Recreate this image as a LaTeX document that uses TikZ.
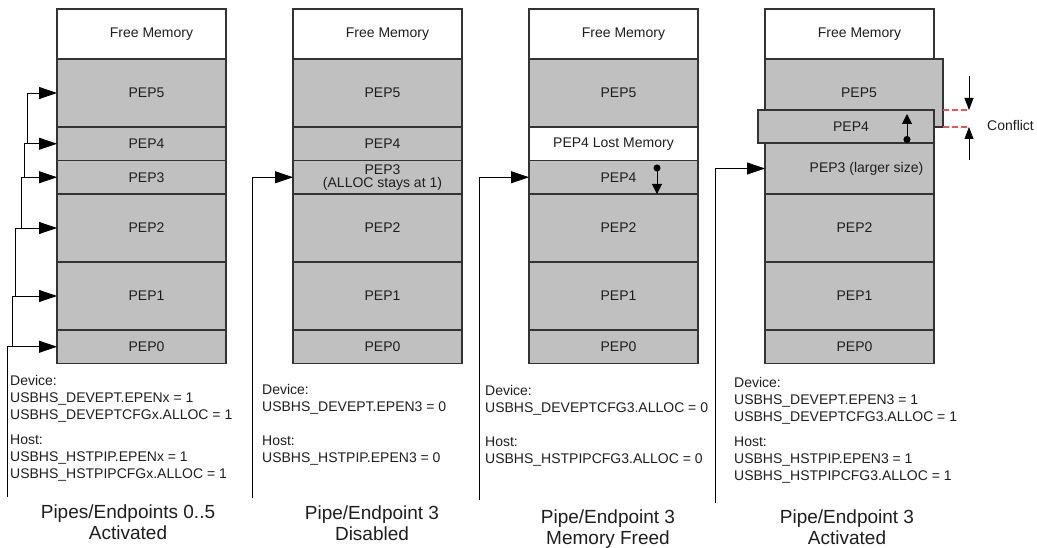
\documentclass[tikz,border=0pt]{standalone}
\usepackage{fontspec}
\setmainfont{Liberation Sans}
\usepackage{tikz}
\usetikzlibrary{arrows.meta, positioning}
\definecolor{pepgray}{HTML}{C0C0C0}
\definecolor{rim}{HTML}{333333}
\definecolor{clash}{HTML}{DC5A5C}
\definecolor{ink}{HTML}{1E1E1E}

\begin{document}
\begin{tikzpicture}[
  x=1pt, y=-1pt,
  cell/.style={draw=rim, line width=1.1pt, minimum width=169pt, inner sep=0pt, outer sep=0pt, align=center, text=ink, font=\fontsize{14}{17}\selectfont},
  free/.style={cell, fill=white, minimum height=50pt, execute at begin node=\hspace*{20pt}},
  pep/.style={cell, fill=pepgray, execute at begin node=\hspace*{10pt}},
  tall/.style={minimum height=68pt},
  low/.style={minimum height=33.5pt},
  note/.style={anchor=north west, align=left, inner sep=0pt, text=ink, font=\fontsize{14}{17}\selectfont},
  caption/.style={anchor=north, align=center, inner sep=0pt, text=ink, font=\fontsize{19}{21}\selectfont},
  feed/.style={draw=black, line width=0.8pt, -{Triangle[length=18pt, width=12pt]}},
  movemark/.style={draw=black, line width=1pt, {Circle[length=7pt]}-{Triangle[length=10pt, width=10pt]}},
  clashtip/.style={draw=black, line width=0.8pt, -{Triangle[length=12pt, width=9pt]}},
  clashline/.style={draw=clash, line width=1.5pt, dash pattern=on 6pt off 3pt}
]
\useasboundingbox (0,0) rectangle (1037,548);

% pipes/endpoints 0..5 activated
\node[free, anchor=north west] (af) at (57,9) {Free Memory};
\node[pep, tall, below=0pt of af] (a5) {PEP5};
\node[pep, low, below=0pt of a5] (a4) {PEP4};
\node[pep, low, below=0pt of a4] (a3) {PEP3};
\node[pep, tall, below=0pt of a3] (a2) {PEP2};
\node[pep, tall, below=0pt of a2] (a1) {PEP1};
\node[pep, low, below=0pt of a1] (a0) {PEP0};
\coordinate (afeed) at (7,497);
\draw[feed] (afeed) |- (a0.west);
\foreach \i/\j/\s in {0/1/45, 1/2/42, 2/3/36, 3/4/33, 4/5/30}
  \draw[feed] ([xshift=-\s pt] a\i.west) |- (a\j.west);
\node[note] (anote) at (10,375) {Device:\\USBHS\_DEVEPT.EPENx = 1\\USBHS\_DEVEPTCFGx.ALLOC = 1\\[8pt]Host:\\USBHS\_HSTPIP.EPENx = 1\\USBHS\_HSTPIPCFGx.ALLOC = 1};
\node[caption] (acap) at (128,505) {Pipes/Endpoints 0..5\\Activated};

% pipe/endpoint 3 disabled
\node[free, anchor=north west] (bf) at (293,9) {Free Memory};
\node[pep, tall, below=0pt of bf] (b5) {PEP5};
\node[pep, low, below=0pt of b5] (b4) {PEP4};
\node[pep, low, below=0pt of b4, execute at begin node={}] (b3) {PEP3\\[-4pt](ALLOC stays at 1)};
\node[pep, tall, below=0pt of b3] (b2) {PEP2};
\node[pep, tall, below=0pt of b2] (b1) {PEP1};
\node[pep, low, below=0pt of b1] (b0) {PEP0};
\coordinate (bfeed) at (252,498);
\draw[feed] (bfeed) |- (b3.west);
\node[note] (bnote) at (262,384) {Device:\\USBHS\_DEVEPT.EPEN3 = 0\\[17pt]Host:\\USBHS\_HSTPIP.EPEN3 = 0};
\node[caption] (bcap) at (372,506) {Pipe/Endpoint 3\\Disabled};

% pipe/endpoint 3 memory freed
\node[free, anchor=north west] (cf) at (529,9) {Free Memory};
\node[pep, tall, below=0pt of cf] (c5) {PEP5};
\node[cell, low, fill=white, below=0pt of c5] (cl) {PEP4 Lost Memory};
\node[pep, low, below=0pt of cl] (c4) {PEP4};
\node[pep, tall, below=0pt of c4] (c2) {PEP2};
\node[pep, tall, below=0pt of c2] (c1) {PEP1};
\node[pep, low, below=0pt of c1] (c0) {PEP0};
\coordinate (cfeed) at (479,500);
\draw[feed] (cfeed) |- (c4.west);
\coordinate (cmove) at ([xshift=-41pt, yshift=-4pt] c4.north east);
\draw[movemark] (cmove) -- (cmove |- c4.south);
\node[note] (cnote) at (485,385) {Device:\\USBHS\_DEVEPTCFG3.ALLOC = 0\\[17pt]Host:\\USBHS\_HSTPIPCFG3.ALLOC = 0};
\node[caption] (ccap) at (608,510) {Pipe/Endpoint 3\\Memory Freed};

% pipe/endpoint 3 activated
\node[free, anchor=north west] (df) at (765,9) {Free Memory};
\node[pep, tall, minimum width=178pt, below=0pt of df.south west, anchor=north west] (d5) {PEP5};
\node[pep, minimum width=176pt, minimum height=33pt, anchor=north west] (d4) at (758,110) {PEP4};
\node[pep, minimum height=51pt, anchor=north west, execute at begin node=\hspace*{24pt}] (d3) at (df.south west |- d4.south) {PEP3 (larger size)};
\node[pep, tall, below=0pt of d3] (d2) {PEP2};
\node[pep, tall, below=0pt of d2] (d1) {PEP1};
\node[pep, low, below=0pt of d1] (d0) {PEP0};
\coordinate (dfeed) at (715,503);
\draw[feed] (dfeed) |- (d3.west);
\coordinate (dmove) at ([xshift=-27pt] d4.south east);
\coordinate (dmovetop) at ([xshift=-27pt, yshift=-4pt] d4.north east);
\draw[movemark] (dmove) -- (dmovetop);
\node[note] (dnote) at (734,377) {Device:\\USBHS\_DEVEPT.EPEN3 = 1\\USBHS\_DEVEPTCFG3.ALLOC = 1\\[8pt]Host:\\USBHS\_HSTPIP.EPEN3 = 1\\USBHS\_HSTPIPCFG3.ALLOC = 1};
\node[caption] (dcap) at (847,510) {Pipe/Endpoint 3\\Activated};

% conflict marker
\coordinate (cfa) at (969,76);
\coordinate (cfb) at (969,160);
\draw[clashline] (d5.east |- d4.north) -- (cfa |- d4.north);
\draw[clashline] (d5.south east) -- (cfb |- d5.south);
\draw[clashtip] (cfa) -- (cfa |- d4.north);
\draw[clashtip] (cfb) -- (cfb |- d5.south);
\node[anchor=west, inner sep=0pt, text=ink, font=\fontsize{14}{17}\selectfont] (cflabel) at (987,125) {Conflict};
\end{tikzpicture}
\end{document}
